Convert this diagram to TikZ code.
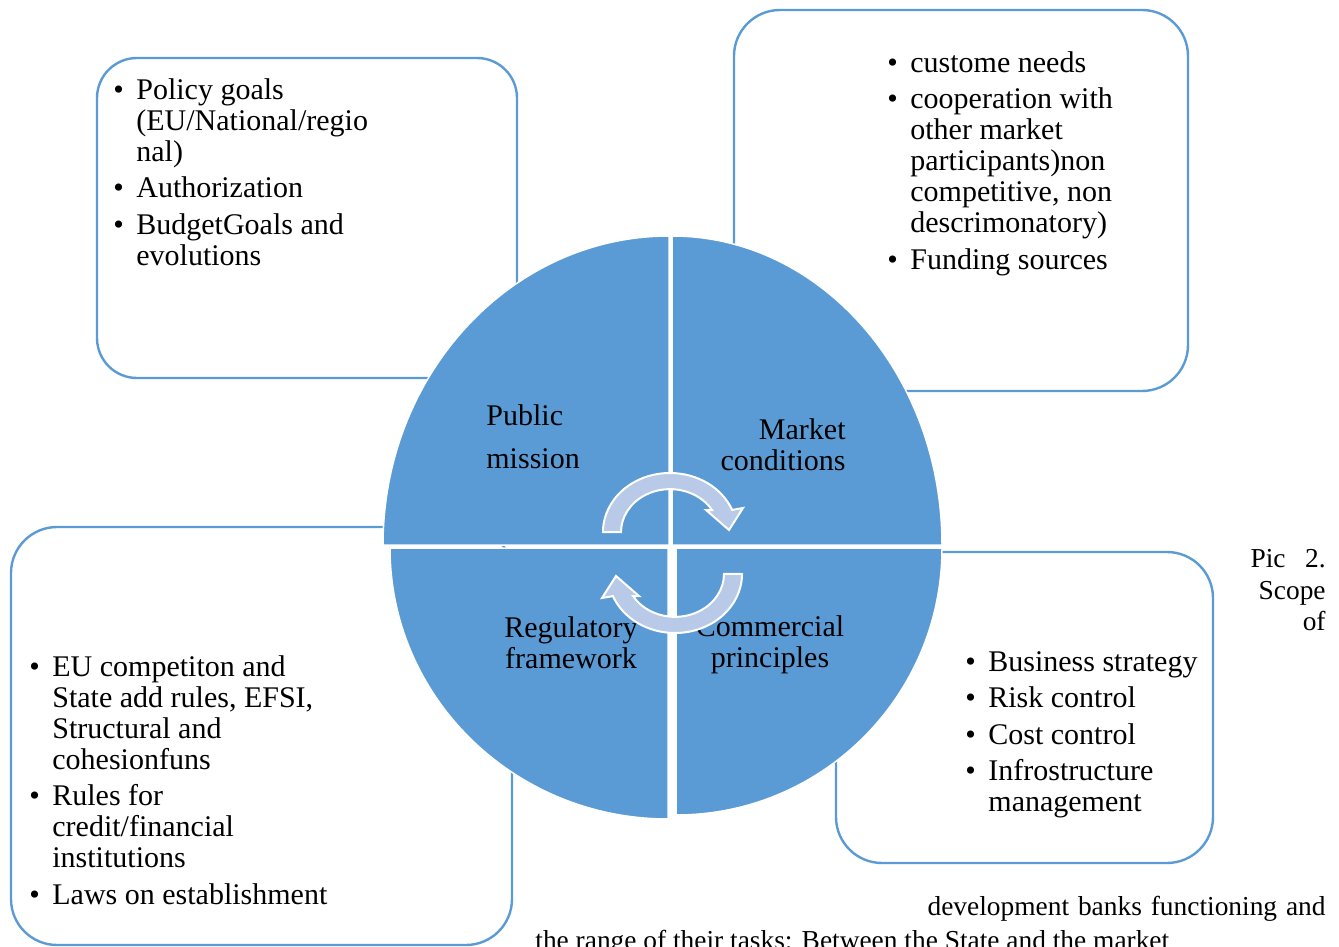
\documentclass[tikz,border=0pt]{standalone}
\usepackage{fontspec}
\setmainfont{Liberation Serif}
\definecolor{accent}{RGB}{91,155,213}
\definecolor{arrowfill}{RGB}{184,202,231}
\tikzset{
  box/.style={draw=accent, line width=1.2pt},
  piece/.style={fill=accent, draw=white, line width=0.75pt},
  cyclearrow/.style={fill=arrowfill, draw=white, line width=1pt, line join=miter},
  txt/.style={inner sep=0pt, font=\fontsize{15}{15.5}\selectfont},
  captxt/.style={inner sep=0pt, font=\fontsize{13.7}{16}\selectfont},
}
\newcommand{\bu}{\makebox[11.5pt][l]{\textbullet}}
\begin{document}
\begin{tikzpicture}[x=0.5pt,y=0.5pt]
\useasboundingbox (0,0) rectangle (1339,-947);
% boxes
\draw[box, rounded corners=20pt] (97,-58) rectangle (517,-378);
\draw[box, rounded corners=23pt] (734,-10) rectangle (1188,-391);
\draw[box, rounded corners=23pt] (11,-527) rectangle (512,-945);
\draw[box, rounded corners=23pt] (836,-552) rectangle (1213,-863);
% circle pieces
\draw[piece] (669,-545) -- (383,-545) arc[start angle=180, end angle=90, x radius=286, y radius=309] -- cycle;
\draw[piece] (672,-545) -- (672,-236) arc[start angle=90, end angle=0, x radius=270, y radius=309] -- cycle;
\draw[piece] (668,-548) -- (390,-548) arc[start angle=180, end angle=270, x radius=278, y radius=271] -- cycle;
\draw[piece] (676,-548) -- (942,-548) arc[start angle=0, end angle=-90, x radius=266, y radius=267] -- cycle;
% box texts
\node[txt, anchor=base west] (tl) at (113,-99.5) {\begin{tabular}[t]{@{}l@{}l@{}}\bu&Policy goals\\&(EU/National/regio\\&nal)\\[2.75pt]\bu&Authorization\\[2.75pt]\bu&BudgetGoals and\\&evolutions\end{tabular}};
\node[txt, anchor=base west] (tr) at (887,-72.5) {\begin{tabular}[t]{@{}l@{}l@{}}\bu&custome needs\\[2.75pt]\bu&cooperation with\\&other market\\&participants)non\\&competitive, non\\&descrimonatory)\\[2.75pt]\bu&Funding sources\end{tabular}};
\node[txt, anchor=base west] (bl) at (29,-676) {\begin{tabular}[t]{@{}l@{}l@{}}\bu&EU competiton and\\&State add rules, EFSI,\\&Structural and\\&cohesionfuns\\[2.75pt]\bu&Rules for\\&credit/financial\\&institutions\\[2.75pt]\bu&Laws on establishment\end{tabular}};
\node[txt, anchor=base west] (br) at (965,-671) {\begin{tabular}[t]{@{}l@{}l@{}}\bu&Business strategy\\[2.75pt]\bu&Risk control\\[2.75pt]\bu&Cost control\\[2.75pt]\bu&Infrostructure\\&management\end{tabular}};
% circle labels
\node[txt, anchor=base west] (pm) at (486,-425) {\begin{tabular}[t]{@{}l@{}}Public\\[6pt]mission\end{tabular}};
\node[txt, anchor=base east] (mc) at (846,-439) {\begin{tabular}[t]{@{}r@{}}Market\\conditions\end{tabular}};
\node[txt, anchor=base] (rf) at (571,-637) {\begin{tabular}[t]{@{}c@{}}Regulatory\\framework\end{tabular}};
\node[txt, anchor=base] (cp) at (770,-636) {\begin{tabular}[t]{@{}c@{}}Commercial\\principles\end{tabular}};
% cycle arrows
\draw[cyclearrow] (603,-532) arc[start angle=180, end angle=22, x radius=67, y radius=59] -- (743,-508) -- (729,-530) -- (706,-510) -- (712,-510) arc[start angle=31, end angle=180, x radius=49, y radius=43] -- cycle;
\draw[cyclearrow, rotate around={180:(672.5,-553)}] (603,-532) arc[start angle=180, end angle=22, x radius=67, y radius=59] -- (743,-508) -- (729,-530) -- (706,-510) -- (712,-510) arc[start angle=31, end angle=180, x radius=49, y radius=43] -- cycle;
% caption
\node[captxt, anchor=base east] (c1) at (1326,-567) {\makebox[37.5pt][s]{Pic 2.}};
\node[captxt, anchor=base east] (c2) at (1326,-599) {Scope};
\node[captxt, anchor=base east] (c3) at (1326,-630) {of};
\node[captxt, anchor=base east] (c4) at (1326,-915) {\makebox[199pt][s]{development banks functioning and}};
\node[captxt, anchor=base west] (c5) at (535,-949) {the range of their tasks: Between the State and the market};
\end{tikzpicture}
\end{document}
